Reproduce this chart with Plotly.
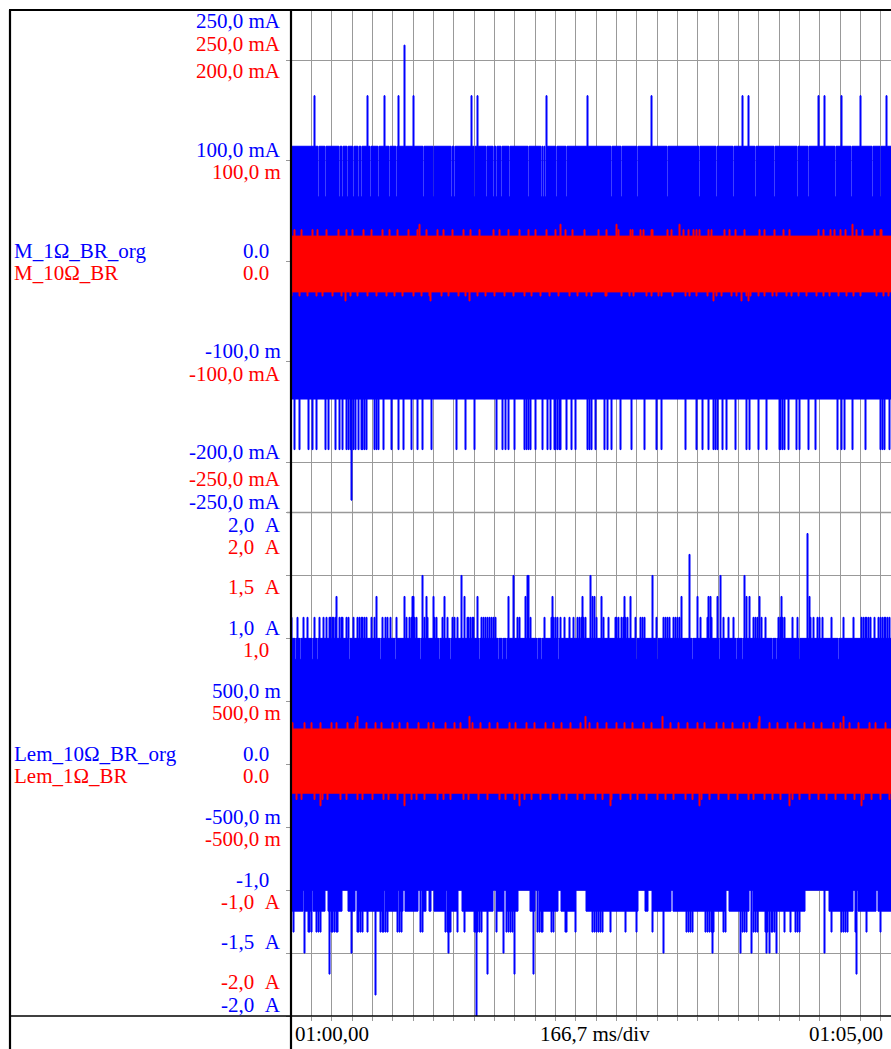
import numpy as np
import plotly.graph_objects as go

W, H = 891, 1049
BLUE = "#0000ff"
RED = "#ff0000"
FONT = "Liberation Serif, Times New Roman, serif"
FSIZE = 21

# ---------------- time axis (s) ----------------
T_START = 60.0
T_END = 65.0
T_DIV = 5.0 / 30.0          # 166,7 ms/div
N_COL = 610                 # display columns across 5 s

# ---------------- top panel: M_1Ω_BR_org (blue, mA) ----------------
tb_hi_base = 114.4
tb_lo_base = -137.1
tb_notch_level = 64.1
tb_notch_t = [60.224, 60.279, 60.396, 60.421, 60.462, 60.511, 60.552, 60.579, 60.648, 60.716,
              60.811, 60.866, 61.085, 61.167, 61.317, 61.344, 61.508, 61.604, 61.658, 61.686,
              61.727, 61.795, 61.945, 62.055, 62.068, 62.082, 62.178, 62.260, 62.631, 62.713,
              62.844, 63.090, 63.352, 63.484, 63.623, 63.811, 63.967, 64.148, 64.238, 64.467,
              64.598, 64.770, 64.828]
tb_up1_level = 164.7
tb_up1_t = [60.189, 60.629, 60.770, 60.885, 61.006, 61.481, 61.530, 62.096, 62.432, 62.951,
            63.697, 63.746, 64.320, 64.369, 64.516, 64.664, 64.885]
tb_up2_level = 215.0
tb_up2_t = [60.932]
tb_dn1_level = -187.4
tb_dn1_t = [60.030, 60.070, 60.140, 60.180, 60.205, 60.284, 60.306, 60.363, 60.394, 60.425,
            60.457, 60.470, 60.485, 60.497, 60.510, 60.526, 60.551, 60.576, 60.590, 60.605,
            60.620, 60.683, 60.702, 60.721, 60.762, 60.824, 60.878, 60.925, 60.985, 61.038,
            61.079, 61.148, 61.358, 61.434, 61.503, 61.682, 61.736, 61.757, 61.786, 61.833,
            61.915, 61.930, 61.945, 61.965, 62.002, 62.059, 62.103, 62.128, 62.160, 62.172,
            62.185, 62.198, 62.210, 62.260, 62.301, 62.336, 62.430, 62.446, 62.461, 62.499,
            62.568, 62.596, 62.625, 62.700, 62.788, 62.898, 62.992, 63.039, 63.234, 63.322,
            63.376, 63.423, 63.467, 63.483, 63.498, 63.536, 63.567, 63.643, 63.737, 63.756,
            63.831, 63.894, 64.001, 64.015, 64.030, 64.045, 64.076, 64.145, 64.170, 64.239,
            64.296, 64.478, 64.516, 64.535, 64.601, 64.710, 64.830, 64.845, 64.862, 64.908]
tb_dn2_level = -237.7
tb_dn2_t = [60.494]

# ---------------- top panel: M_10Ω_BR (red, mA) ----------------
tr_hi_base = 25.0
tr_lo_base = -30.5
tr_up1_level = 31.4
tr_up1_t = [60.025, 60.082, 60.180, 60.221, 60.295, 60.393, 60.451, 60.500, 60.598, 60.656,
            60.754, 60.811, 60.877, 60.967, 61.033, 61.107, 61.197, 61.254, 61.320, 61.410,
            61.475, 61.549, 61.656, 61.705, 61.779, 61.877, 61.943, 62.008, 62.098, 62.164,
            62.254, 62.311, 62.402,
            62.519, 62.582, 62.683, 62.784, 62.801, 62.861, 62.888, 62.951, 62.965, 63.085,
            63.120, 63.221, 63.262, 63.303, 63.320, 63.352, 63.426, 63.443, 63.557, 63.598,
            63.645, 63.721, 63.844, 63.885, 63.967, 64.036, 64.085, 64.322, 64.363, 64.424,
            64.459, 64.500, 64.541, 64.637, 64.686, 64.779, 64.828, 64.842]
tr_up2_level = 36.8
tr_up2_t = [61.057, 62.205, 62.664, 63.183, 64.604]
tr_dn1_level = -34.6
tr_dn1_t = [60.008, 60.066, 60.139, 60.205, 60.262, 60.344, 60.410, 60.484, 60.549, 60.623,
            60.697, 60.779, 60.852, 60.918, 61.000, 61.066, 61.139, 61.230, 61.295, 61.369,
            61.434, 61.525, 61.598, 61.672, 61.746, 61.820, 61.910, 61.975, 62.049, 62.115,
            62.189, 62.279, 62.352, 62.426,
            62.464, 62.574, 62.587, 62.710, 62.773, 62.806, 62.910, 62.956, 63.011, 63.038,
            63.128, 63.230, 63.270, 63.320, 63.413, 63.489, 63.530, 63.612, 63.653, 63.735,
            63.768, 63.831, 63.885, 63.948, 63.981, 64.063, 64.104, 64.158, 64.227, 64.309,
            64.363, 64.418, 64.486, 64.555, 64.609, 64.670, 64.801, 64.855, 64.896]
tr_dn2_level = -39.5
tr_dn2_t = [60.443, 61.145, 61.467, 63.467, 63.694, 63.752]

# ---------------- bottom panel: Lem_10Ω_BR_org (blue, A) ----------------
bb_hi_base = 1.0
bb_lo_base = -1.167
bb_notch_level = 0.833
bb_notch_t = [60.039, 60.080, 60.180, 60.218, 60.479, 60.730, 60.856, 60.950, 61.060, 61.217,
              61.305, 61.547, 61.704, 61.735, 61.767, 62.018, 62.050, 62.191, 62.662, 62.835,
              63.008, 63.290, 63.510, 63.652, 63.699, 63.950, 63.982, 64.170, 64.484]
bb_up1_level = 1.167
bb_up1_t = [60.008, 60.055, 60.102, 60.133, 60.196, 60.237, 60.268, 60.290, 60.312, 60.325,
            60.337, 60.350, 60.363, 60.375, 60.394, 60.410, 60.425, 60.457, 60.469, 60.510,
            60.542, 60.564, 60.576, 60.589, 60.605, 60.620, 60.658, 60.683, 60.746, 60.771,
            60.793, 60.815, 60.865, 60.934, 60.944, 60.972, 60.985, 61.013, 61.029, 61.092,
            61.117, 61.180, 61.195, 61.242, 61.280, 61.327, 61.343, 61.365, 61.447, 61.459,
            61.472, 61.484, 61.497, 61.563, 61.579, 61.594, 61.610, 61.626, 61.641, 61.657,
            61.673, 61.855, 61.877, 61.965, 62.081, 62.135, 62.153, 62.172, 62.185, 62.210,
            62.241, 62.279, 62.317, 62.348, 62.364, 62.380, 62.398, 62.411, 62.474, 62.505,
            62.562, 62.600, 62.656, 62.669, 62.688, 62.713, 62.725, 62.744, 62.757, 62.820,
            62.867, 62.882, 62.898, 62.992, 63.055, 63.071, 63.087, 63.102, 63.134, 63.149,
            63.165, 63.181, 63.360, 63.416, 63.448, 63.542, 63.589, 63.630, 63.793, 63.809,
            63.825, 63.856, 63.888, 63.998, 64.013, 64.029, 64.045, 64.108, 64.155, 64.233,
            64.258, 64.280, 64.312, 64.328, 64.359, 64.428, 64.532, 64.610, 64.673, 64.689,
            64.705, 64.720, 64.736, 64.752, 64.783, 64.814, 64.830, 64.846, 64.862, 64.877,
            64.893, 64.909]
bb_up2_level = 1.333
bb_up2_t = [60.369, 60.699, 60.928, 60.997, 61.007, 61.107, 61.170, 61.258, 61.421, 61.531,
            61.783, 61.924, 62.147, 62.389, 62.468, 62.490, 62.543, 62.735, 62.779, 63.200,
            63.332, 63.426, 63.442, 63.495, 63.737, 63.762, 63.844, 64.020, 64.249]
bb_up3_level = 1.5
bb_up3_t = [61.079, 61.396, 61.824, 61.940, 61.948, 62.452, 62.961, 63.523, 63.715]
bb_up4_level = 1.667
bb_up4_t = [63.269]
bb_up5_level = 1.833
bb_up5_t = [64.236]
# stretches where the lower edge stays at -1.0 A
bb_gap_level = -1.0
bb_gap_start = [60.100, 60.165, 60.281, 60.419, 60.532, 60.746, 60.871, 60.919, 61.044, 61.107,
                61.154, 61.264, 61.374, 61.515, 61.657, 61.751, 61.861, 62.002, 62.191, 62.332,
                62.851, 62.929, 63.118, 63.573, 63.762, 64.217, 64.610, 64.799]
bb_gap_end = [60.110, 60.180, 60.300, 60.463, 60.545, 60.777, 60.887, 60.934, 61.076, 61.123,
              61.170, 61.280, 61.399, 61.531, 61.688, 61.770, 61.955, 62.028, 62.206, 62.411,
              62.898, 62.961, 63.126, 63.582, 63.793, 64.406, 64.642, 64.808]
bb_dn1_level = -1.333
bb_dn1_t = [60.017, 60.111, 60.143, 60.155, 60.165, 60.212, 60.227, 60.243, 60.331, 60.344,
            60.356, 60.369, 60.385, 60.494, 60.542, 60.557, 60.573, 60.582, 60.630, 60.730,
            60.746, 60.762, 60.777, 60.793, 60.871, 60.887, 60.903, 61.060, 61.076, 61.264,
            61.280, 61.296, 61.311, 61.365, 61.421, 61.500, 61.515, 61.531, 61.547, 61.563,
            61.682, 61.767, 61.783, 61.798, 61.814, 61.830, 62.018, 62.034, 62.050, 62.065,
            62.138, 62.153, 62.248, 62.260, 62.332, 62.474, 62.490, 62.505, 62.521, 62.537,
            62.552, 62.615, 62.741, 62.835, 62.961, 63.243, 63.259, 63.275, 63.290, 63.400,
            63.416, 63.432, 63.448, 63.463, 63.542, 63.558, 63.699, 63.715, 63.730, 63.793,
            63.809, 63.825, 63.888, 63.903, 63.919, 63.935, 63.950, 63.966, 64.045, 64.092,
            64.139, 64.155, 64.170, 64.428, 64.510, 64.525, 64.541, 64.563, 64.626, 64.720,
            64.830]
bb_dn2_level = -1.5
bb_dn2_t = [60.111, 60.494, 61.289, 61.745, 63.055, 63.457, 63.683, 63.778, 63.897, 63.925,
            63.976, 64.375]
bb_dn3_level = -1.667
bb_dn3_t = [60.315, 61.610, 61.833, 61.990, 64.635]
bb_dn4_level = -1.833
bb_dn4_t = [60.689]
bb_dn5_level = -2.0
bb_dn5_t = [61.522]

# ---------------- bottom panel: Lem_1Ω_BR (red, A) ----------------
br_hi_base = 0.28
br_lo_base = -0.23
br_up1_level = 0.33
br_up1_t = [60.016, 60.107, 60.164, 60.238, 60.328, 60.377, 60.467, 60.525, 60.615, 60.689,
            60.738, 60.828, 60.893, 60.959, 61.049, 61.123, 61.172, 61.270, 61.344, 61.393,
            61.484, 61.557, 61.631, 61.689, 61.787, 61.844, 61.934, 61.992, 62.082, 62.148,
            62.221, 62.295, 62.369, 62.443, 62.516, 62.582, 62.672, 62.730, 62.803, 62.893,
            62.951, 63.041, 63.107, 63.180, 63.254, 63.328, 63.393, 63.484, 63.541, 63.615,
            63.705, 63.762, 63.836, 63.926, 63.984, 64.066, 64.139, 64.213, 64.279, 64.352,
            64.443, 64.500, 64.574, 64.648, 64.738, 64.795, 64.869]
br_up2_level = 0.38
br_up2_t = [60.541, 61.467, 62.410, 63.049, 63.844, 64.525]
br_dn1_level = -0.28
br_dn1_t = [60.041, 60.090, 60.189, 60.262, 60.303, 60.402, 60.451, 60.541, 60.590, 60.664,
            60.762, 60.803, 60.869, 60.984, 61.025, 61.098, 61.197, 61.246, 61.311, 61.418,
            61.459, 61.533, 61.607, 61.705, 61.762, 61.828, 61.918, 61.975, 62.049, 62.123,
            62.197, 62.262, 62.352, 62.402, 62.492, 62.557, 62.623, 62.697, 62.779, 62.844,
            62.918, 63.008, 63.066, 63.139, 63.230, 63.287, 63.361, 63.434, 63.508, 63.582,
            63.656, 63.746, 63.795, 63.885, 63.943, 64.016, 64.107, 64.172, 64.246, 64.320,
            64.393, 64.467, 64.541, 64.615, 64.689, 64.762, 64.836, 64.902]
br_dn2_level = -0.33
br_dn2_t = [60.238, 60.934, 61.877, 62.615, 63.352, 64.090, 64.680]

# ---------------- axis labels ----------------
top_labels = [("250,0 mA", BLUE), ("250,0 mA", RED), ("200,0 mA", RED),
              ("100,0 mA", BLUE), ("100,0 m", RED), ("0.0", BLUE), ("0.0", RED),
              ("-100,0 m", BLUE), ("-100,0 mA", RED), ("-200,0 mA", BLUE),
              ("-250,0 mA", RED), ("-250,0 mA", BLUE)]
top_label_px = [21, 44, 71, 150, 172, 251, 273, 351, 374, 452, 479, 502]
bot_labels = [("2,0\u00a0\u00a0A", BLUE), ("2,0\u00a0\u00a0A", RED), ("1,5\u00a0\u00a0A", RED),
              ("1,0\u00a0\u00a0A", BLUE), ("1,0", RED), ("500,0 m", BLUE), ("500,0 m", RED),
              ("0.0", BLUE), ("0.0", RED), ("-500,0 m", BLUE), ("-500,0 m", RED),
              ("-1,0", BLUE), ("-1,0\u00a0\u00a0A", RED), ("-1,5\u00a0\u00a0A", BLUE),
              ("-2,0\u00a0\u00a0A", RED), ("-2,0\u00a0\u00a0A", BLUE)]
bot_label_px = [525, 547, 587, 628, 650, 691, 713, 754, 776, 817, 839, 880, 902, 942, 982, 1005]
channel_names = [("M_1Ω_BR_org", BLUE, 251), ("M_10Ω_BR", RED, 273),
                 ("Lem_10Ω_BR_org", BLUE, 754), ("Lem_1Ω_BR", RED, 776)]
time_labels = ["01:00,00", "166,7 ms/div", "01:05,00"]

# ---------------- geometry (pixels) ----------------
X_LEFT, X_DIV = 10, 291
Y_TOP, Y_MID, Y_BOT = 10, 512.5, 1016
VIS_END = T_START + (T_END - T_START) * (W - X_DIV) / 610.0


def py(p):
    return 1 - p / H


def px(p):
    return p / W


COL = (T_END - T_START) / N_COL


def col(t):
    return int((t - T_START) / COL)


def envelope(hi_base, lo_base, hi_sets, lo_sets, lo_ranges=()):
    hi = np.full(N_COL, float(hi_base))
    lo = np.full(N_COL, float(lo_base))
    for level, times in sorted(hi_sets, key=lambda s: s[0]):
        for t in times:
            i = col(t)
            if 0 <= i < N_COL:
                hi[i] = min(hi[i], level) if level < hi_base else max(hi[i], level)
    for level, starts, ends in lo_ranges:
        for a, b in zip(starts, ends):
            lo[max(col(a), 0):min(col(b) + 1, N_COL)] = level
    for level, times in sorted(lo_sets, key=lambda s: -s[0]):
        for t in times:
            i = col(t)
            if 0 <= i < N_COL:
                lo[i] = max(lo[i], level) if level > lo_base else min(lo[i], level)
    x = T_START + COL * np.arange(N_COL + 1)
    return x, np.append(hi, hi[-1]), np.append(lo, lo[-1])


def band_traces(x, hi, lo, color, xa, ya):
    return [
        go.Scatter(x=x, y=lo, mode="lines", line=dict(color=color, width=1, shape="hv"),
                   xaxis=xa, yaxis=ya, hoverinfo="skip", showlegend=False),
        go.Scatter(x=x, y=hi, mode="lines", line=dict(color=color, width=1, shape="hv"),
                   fill="tonexty", fillcolor=color,
                   xaxis=xa, yaxis=ya, hoverinfo="skip", showlegend=False),
    ]


fig = go.Figure()

x, hi, lo = envelope(tb_hi_base, tb_lo_base,
                     [(tb_notch_level, tb_notch_t), (tb_up1_level, tb_up1_t), (tb_up2_level, tb_up2_t)],
                     [(tb_dn1_level, tb_dn1_t), (tb_dn2_level, tb_dn2_t)])
fig.add_traces(band_traces(x, hi, lo, BLUE, "x2", "y"))
x, hi, lo = envelope(tr_hi_base, tr_lo_base,
                     [(tr_up1_level, tr_up1_t), (tr_up2_level, tr_up2_t)],
                     [(tr_dn1_level, tr_dn1_t), (tr_dn2_level, tr_dn2_t)])
fig.add_traces(band_traces(x, hi, lo, RED, "x2", "y"))

x, hi, lo = envelope(bb_hi_base, bb_lo_base,
                     [(bb_notch_level, bb_notch_t), (bb_up1_level, bb_up1_t), (bb_up2_level, bb_up2_t),
                      (bb_up3_level, bb_up3_t), (bb_up4_level, bb_up4_t), (bb_up5_level, bb_up5_t)],
                     [(bb_dn1_level, bb_dn1_t), (bb_dn2_level, bb_dn2_t),
                      (bb_dn3_level, bb_dn3_t), (bb_dn4_level, bb_dn4_t), (bb_dn5_level, bb_dn5_t)],
                     [(bb_gap_level, bb_gap_start, bb_gap_end)])
fig.add_traces(band_traces(x, hi, lo, BLUE, "x", "y2"))
x, hi, lo = envelope(br_hi_base, br_lo_base,
                     [(br_up1_level, br_up1_t), (br_up2_level, br_up2_t)],
                     [(br_dn1_level, br_dn1_t), (br_dn2_level, br_dn2_t)])
fig.add_traces(band_traces(x, hi, lo, RED, "x", "y2"))

GRID = "#999999"
xcommon = dict(range=[T_START, VIS_END], domain=[px(X_DIV), 1], tick0=T_START, dtick=T_DIV,
               showgrid=True, gridcolor=GRID, gridwidth=1.3, zeroline=False,
               showticklabels=False, showline=False, fixedrange=True)
fig.update_layout(
    width=W, height=H, margin=dict(l=0, r=0, t=0, b=0),
    paper_bgcolor="white", plot_bgcolor="white", showlegend=False,
    xaxis=dict(**xcommon, anchor="y2", ticks="outside", ticklen=4, tickcolor=GRID, tickwidth=1.3),
    xaxis2=dict(**xcommon, anchor="y", matches="x", ticks=""),
    yaxis=dict(domain=[py(Y_MID), py(Y_TOP)], range=[-250, 250], tick0=0, dtick=100,
               showgrid=True, gridcolor=GRID, gridwidth=1.3, zeroline=False,
               showticklabels=False, ticks="outside", ticklen=4, tickcolor=GRID, tickwidth=1.3,
               anchor="x2", fixedrange=True),
    yaxis2=dict(domain=[py(Y_BOT), py(Y_MID)], range=[-2, 2], tick0=0, dtick=0.5,
                showgrid=True, gridcolor=GRID, gridwidth=1.3, zeroline=False,
                showticklabels=False, ticks="outside", ticklen=4, tickcolor=GRID, tickwidth=1.3,
                anchor="x", fixedrange=True),
)

shapes = [
    dict(type="line", xref="paper", yref="paper", x0=px(X_DIV - 4), x1=1, y0=py(Y_MID), y1=py(Y_MID),
         line=dict(color=GRID, width=1.3)),
    dict(type="line", xref="paper", yref="paper", x0=px(X_LEFT - 1), x1=1, y0=py(Y_TOP), y1=py(Y_TOP),
         line=dict(color="black", width=2.2)),
    dict(type="line", xref="paper", yref="paper", x0=px(X_LEFT), x1=px(X_LEFT), y0=py(Y_TOP), y1=0,
         line=dict(color="black", width=2.2)),
    dict(type="line", xref="paper", yref="paper", x0=px(X_DIV), x1=px(X_DIV), y0=py(Y_TOP), y1=0,
         line=dict(color="black", width=2.2)),
    dict(type="line", xref="paper", yref="paper", x0=px(X_LEFT), x1=1, y0=py(Y_BOT), y1=py(Y_BOT),
         line=dict(color="black", width=1.6)),
]
fig.update_layout(shapes=shapes)

ann = []
for (txt, colr), p in zip(top_labels + bot_labels, top_label_px + bot_label_px):
    right = 271 if txt in ("0.0", "1,0", "-1,0") else 283
    ann.append(dict(text=txt, x=px(right), y=py(p), xref="paper", yref="paper",
                    xanchor="right", yanchor="middle", showarrow=False,
                    font=dict(family=FONT, size=FSIZE, color=colr)))
for txt, colr, p in channel_names:
    ann.append(dict(text=txt, x=px(12), y=py(p), xref="paper", yref="paper",
                    xanchor="left", yanchor="middle", showarrow=False,
                    font=dict(family=FONT, size=FSIZE, color=colr)))
for txt, xx, anc in zip(time_labels, [292.5, 595, 807], ["left", "center", "left"]):
    ann.append(dict(text=txt, x=px(xx), y=py(1034), xref="paper", yref="paper",
                    xanchor=anc, yanchor="middle", showarrow=False,
                    font=dict(family=FONT, size=FSIZE, color="black")))
fig.update_layout(annotations=ann)

fig.write_html("out.html")
